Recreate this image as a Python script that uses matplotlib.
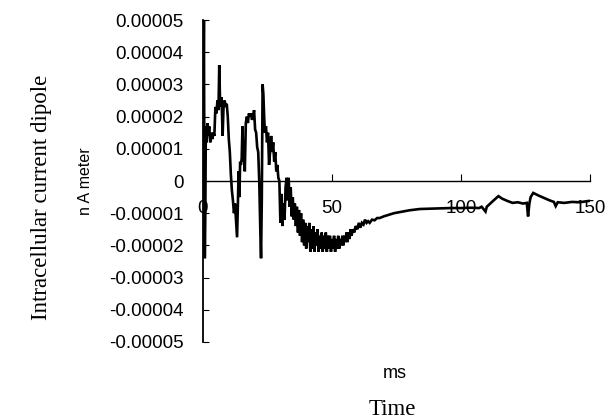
import numpy as np
import matplotlib
matplotlib.use("Agg")
import matplotlib.pyplot as plt

# time (ms) and dipole values (units of 1e-5 nA meter)
t_ms = [
    0.0, 0.2, 0.35, 0.5, 0.7, 0.9, 1.1, 1.4, 1.7, 2.0, 2.4, 2.8, 3.2, 3.6, 4.0,
    4.4, 4.8, 5.2, 5.6, 6.0, 6.3, 6.6, 6.9, 7.2, 7.6, 8.0, 8.4, 8.8, 9.2, 9.6,
    10.0, 10.4, 10.8, 11.2, 11.6, 12.0, 12.4, 12.8, 13.2, 13.5, 13.8, 14.1,
    14.4, 14.7, 15.0, 15.3, 15.6, 15.9, 16.2, 16.6, 17.0, 17.4, 17.8, 18.2,
    18.6, 19.0, 19.4, 19.8, 20.2, 20.6, 21.0, 21.4, 21.8, 22.2, 22.5, 22.8,
    23.1, 23.4, 23.7, 24.0, 24.4, 24.8, 25.2, 25.6, 26.0, 26.4, 26.8, 27.2,
    27.6, 28.0, 28.4, 28.8, 29.2, 29.6, 30.0, 30.4, 30.8, 31.2, 31.6, 32.0,
    32.4, 32.8, 33.2, 33.6, 34.0, 34.4, 34.8, 35.2, 35.6, 36.0, 36.4, 36.8,
    37.2, 37.6, 38.0, 38.4, 38.8, 39.2, 39.6, 40.0, 40.4, 40.8, 41.2, 41.6,
    42.0, 42.4, 42.8, 43.2, 43.6, 44.0, 44.4, 44.8, 45.2, 45.6, 46.0, 46.4,
    46.8, 47.2, 47.6, 48.0, 48.4, 48.8, 49.2, 49.6, 50.0, 50.4, 50.8, 51.2,
    51.6, 52.0, 52.4, 52.8, 53.2, 53.6, 54.0, 54.4, 54.8, 55.2, 55.6, 56.0,
    56.4, 56.8, 57.2, 57.6, 58.0, 58.6, 59.2, 59.8, 60.4, 61.0, 61.6, 62.2,
    62.8, 63.4, 64.0, 64.6, 65.5, 66.5, 67.5, 68.5, 70, 72, 74, 76, 78, 80,
    84, 88, 92, 96, 100, 104, 107, 108, 109.5, 110, 112, 114.5, 116, 118,
    120, 122, 124, 125.5, 126, 126.5, 127, 128, 130, 132, 134, 136, 136.7,
    137.5, 140, 143, 146, 149.5,
]
dipole = [
    0.0, 3.0, 5.0, 1.0, -2.4, -1.0, 1.7, 1.2, 1.8, 1.4, 1.7, 1.2, 1.5, 1.3, 1.5,
    1.4, 2.3, 2.1, 2.5, 2.2, 3.6, 2.5, 2.3, 2.6, 1.4, 2.4, 2.5, 2.3, 2.4, 2.0,
    1.3, 0.9, 0.2, -0.3, -0.6, -1.0, -0.7, -1.2, -1.75, -0.8, 0.3, -0.5,
    0.6, 0.5, 0.7, 1.7, 0.6, 1.2, 0.3, 1.8, 2.0, 1.8, 2.1, 2.0,
    2.1, 1.9, 2.0, 2.2, 1.6, 1.5, 1.05, 0.9, 0.0, -1.5, -2.4, -0.5,
    3.0, 2.7, 2.0, 1.5, 1.7, 1.2, 1.5, 0.5, 0.9, 1.4, 0.9, 1.2,
    0.6, 0.9, 0.3, 0.5, 0.1, 0.0, -1.3, -0.4, -1.4, -0.7, -1.2, -0.2,
    0.1, -0.6, 0.1, -0.8, -0.2, -1.1, -0.5, -1.2, -0.7, -1.4, -0.8, -1.6,
    -0.9, -1.7, -1.0, -1.9, -1.2, -2.0, -1.3, -2.1, -1.4, -1.9, -1.3, -2.2,
    -1.5, -2.1, -1.4, -2.2, -1.6, -2.0, -1.5, -2.2, -1.7, -2.1, -1.6, -2.2,
    -1.7, -2.1, -1.6, -2.2, -1.7, -2.1, -1.7, -2.2, -1.8, -2.1, -1.7, -2.2,
    -1.8, -2.1, -1.7, -2.1, -1.8, -2.0, -1.7, -2.0, -1.7, -1.9, -1.6, -1.9,
    -1.6, -1.8, -1.5, -1.7, -1.5, -1.6, -1.4, -1.5, -1.3, -1.45, -1.3, -1.35,
    -1.2, -1.3, -1.25, -1.3, -1.2, -1.22, -1.15, -1.15, -1.1, -1.05, -1.0, -0.97, -0.94, -0.91,
    -0.87, -0.86, -0.85, -0.84, -0.84, -0.83, -0.84, -0.8, -0.95, -0.8, -0.65, -0.47, -0.55, -0.62,
    -0.68, -0.66, -0.7, -0.68, -1.1, -0.7, -0.5, -0.37, -0.45, -0.52, -0.59, -0.65, -0.78,
    -0.66, -0.68, -0.65, -0.66, -0.62,
]

x_ticks = [0, 50, 100, 150]
y_ticks = [-0.00005, -0.00004, -0.00003, -0.00002, -0.00001, 0,
           0.00001, 0.00002, 0.00003, 0.00004, 0.00005]
y_ticklabels = ["-0.00005", "-0.00004", "-0.00003", "-0.00002", "-0.00001", "0",
                "0.00001", "0.00002", "0.00003", "0.00004", "0.00005"]

W, H = 606, 419
fig = plt.figure(figsize=(W / 100, H / 100), dpi=100)
ax = fig.add_axes([203 / W, 1 - 342 / H, (590 - 203) / W, (342 - 20) / H])

ax.plot(t_ms, np.array(dipole) * 1e-5, color="black", lw=1.9,
        solid_joinstyle="miter")

ax.set_xlim(0, 150)
ax.set_ylim(-0.00005, 0.00005)

for s in ["top", "right"]:
    ax.spines[s].set_visible(False)
ax.spines["bottom"].set_position(("data", 0))
ax.spines["bottom"].set_linewidth(1.0)
ax.spines["left"].set_linewidth(1.3)

ax.set_xticks(x_ticks)
ax.set_yticks(y_ticks)
ax.set_yticklabels(y_ticklabels)
ax.tick_params(axis="x", direction="in", length=5, pad=13.5, labelsize=13.5)
ax.tick_params(axis="y", direction="in", length=4, pad=14, labelsize=13.5)
for lab in ax.get_xticklabels() + ax.get_yticklabels():
    lab.set_fontfamily("Liberation Sans")

fig.text(395 / W, 1 - 373 / H, "ms", ha="center", va="center",
         fontsize=13, family="Liberation Sans")
fig.text(392 / W, 1 - 409 / H, "Time", ha="center", va="center",
         fontsize=16.5, family="Liberation Serif")
fig.text(42 / W, 1 - 197 / H, "Intracellular current dipole", rotation=90,
         ha="center", va="center", fontsize=16.5, family="Liberation Serif")
fig.text(86 / W, 1 - 181 / H, "n A meter", rotation=90,
         ha="center", va="center", fontsize=11.5, family="Liberation Sans")

fig.savefig("out.png", dpi=100)
